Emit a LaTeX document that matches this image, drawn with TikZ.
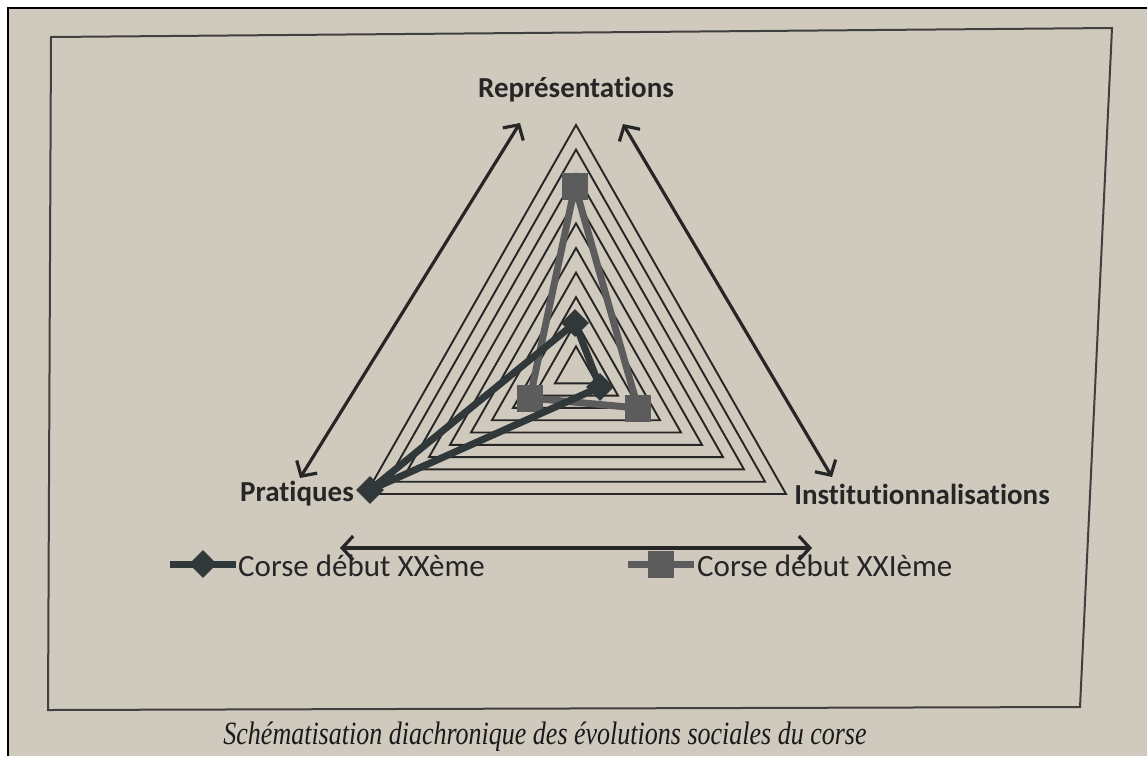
\documentclass[tikz,border=0pt]{standalone}
\usepackage{fontspec}
\setmainfont{Carlito}[Ligatures={NoCommon,NoRare},Contextuals=NoAlternate]
\newfontfamily\capfont{Liberation Serif}
\usetikzlibrary{arrows.meta,shapes.geometric}
\definecolor{paper}{RGB}{208,202,190}
\definecolor{ink}{RGB}{38,38,38}
\definecolor{serA}{RGB}{48,56,58}
\definecolor{serB}{RGB}{92,92,92}
\begin{document}
\begin{tikzpicture}[x=1pt,y=-1pt,
  gridtri/.style={draw=ink, line width=1.9pt, line join=miter},
  axisarrow/.style={draw=ink, line width=3.2pt,
    {Straight Barb[length=11pt,width=24pt]}-{Straight Barb[length=11pt,width=24pt]}},
  labeltext/.style={text=ink, font=\bfseries\fontsize{29}{34}\selectfont, inner sep=0pt},
  legtext/.style={text=ink, font=\fontsize{31}{36}\selectfont, inner sep=0pt, anchor=west},
  serAline/.style={draw=serA, line width=7pt, line join=round},
  serBline/.style={draw=serB, line width=7pt, line join=round},
  dmark/.style={diamond, fill=serA, minimum width=28pt, minimum height=28pt, inner sep=0pt},
  smark/.style={rectangle, fill=serB, minimum width=26pt, minimum height=27pt, inner sep=0pt},
  framebox/.style={draw=black!75, line width=2pt}
]
\useasboundingbox (0,0) rectangle (1147,756);
\fill[white] (0,0) rectangle (1147,756);
\fill[paper] (8,8) rectangle (1147,756);
\draw[black, line width=2pt] (8,756) -- (8,8) -- (1147,8);

% frame
\coordinate (fTL) at (51,37);
\coordinate (fTR) at (1112,28);
\coordinate (fBR) at (1080,707);
\coordinate (fBL) at (48,710);
\draw[framebox] (fTL) -- (fTR) -- (fBR) -- (fBL) -- cycle;

% grid triangles
\foreach \k in {1,...,10}{
  \draw[gridtri, shift={(576,371)}, scale=\k/10] (0,-246) -- (210,123) -- (-210,123) -- cycle;
}

% labels
\node[labeltext] (rep) at (576,90) {Représentations};
\node[labeltext] (prat) at (297,494) {Pratiques};
\node[labeltext] (inst) at (922,494) {Institutionnalisations};

% axis arrows
\coordinate (a1s) at (300,478);
\coordinate (a1e) at (520,123);
\coordinate (a2s) at (623,124);
\coordinate (a2e) at (832,477);
\coordinate (a3s) at (340,548);
\coordinate (a3e) at (812,548);
\draw[axisarrow] (a1s) -- (a1e);
\draw[axisarrow] (a2s) -- (a2e);
\draw[axisarrow] (a3s) -- (a3e);

% series XXIe (squares)
\coordinate (sR) at (575,186);
\coordinate (sP) at (530,398);
\coordinate (sI) at (638,408);
\draw[serBline] (sR) -- (sI) -- (sP) -- cycle;
\node[smark] (mR) at (sR) {};
\node[smark] (mP) at (sP) {};
\node[smark] (mI) at (sI) {};

% series XXe (diamonds)
\coordinate (dR) at (575,323);
\coordinate (dP) at (370,490);
\coordinate (dI) at (600,387);
\draw[serAline] (dR) -- (dI) -- (dP) -- cycle;
\node[dmark] (nR) at (dR) {};
\node[dmark] (nP) at (dP) {};
\node[dmark] (nI) at (dI) {};

% legend
\coordinate (l1a) at (170,564);
\coordinate (l1b) at (236,564);
\draw[serAline, line width=7pt] (l1a) -- (l1b);
\node[dmark] (ld) at (203,564) {};
\node[legtext] (lt1) at (238,566) {Corse début XXème};
\coordinate (l2a) at (628,564);
\coordinate (l2b) at (694,564);
\draw[serBline, line width=7pt] (l2a) -- (l2b);
\node[smark] (ls) at (661,564) {};
\node[legtext] (lt2) at (697,566) {Corse début XXIème};

% caption
\node[text=black!90, inner sep=0pt, font=\capfont\itshape\fontsize{26}{30}\selectfont, yscale=1.25] (cap) at (545,737) {Schématisation diachronique des évolutions sociales du corse};
\end{tikzpicture}
\end{document}
